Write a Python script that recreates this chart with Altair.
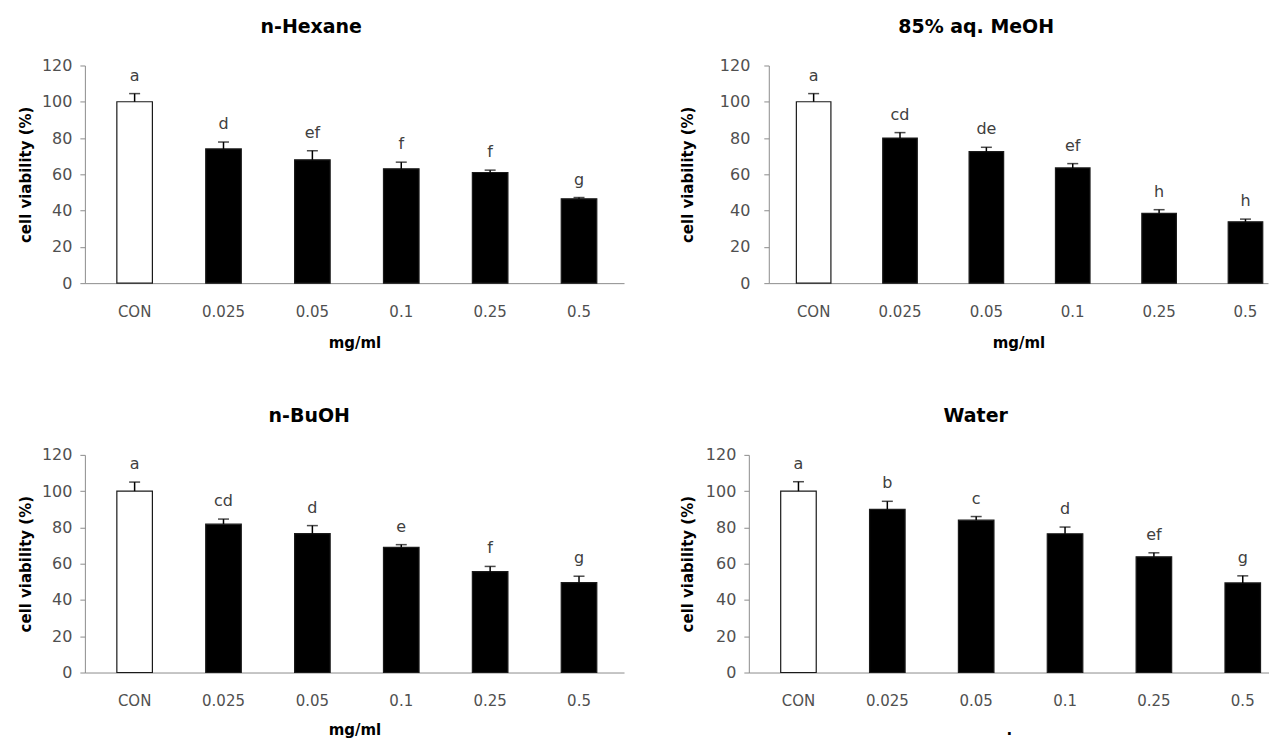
import altair as alt
import pandas as pd

doses = ["CON", "0.025", "0.05", "0.1", "0.25", "0.5"]

hexane_vals = [100, 74, 68, 63, 61, 46.5]
hexane_err = [4.5, 3.8, 5.0, 3.7, 1.3, 0.7]
hexane_letters = ["a", "d", "ef", "f", "f", "g"]

meoh_vals = [100, 80, 72.5, 63.5, 38.5, 33.8]
meoh_err = [4.5, 3.0, 2.4, 2.4, 2.0, 1.5]
meoh_letters = ["a", "cd", "de", "ef", "h", "h"]

buoh_vals = [100, 81.8, 76.6, 69, 55.6, 49.6]
buoh_err = [5.0, 2.8, 4.4, 1.5, 2.9, 3.5]
buoh_letters = ["a", "cd", "d", "e", "f", "g"]

water_vals = [100, 90, 84, 76.5, 63.8, 49.4]
water_err = [5.2, 4.4, 2.0, 3.7, 2.2, 3.9]
water_letters = ["a", "b", "c", "d", "ef", "g"]

y_ticks = [0, 20, 40, 60, 80, 100, 120]

FONT = "DejaVu Sans"
YTITLE = "cell viability (%)"


def panel(title, vals, errs, letters, xtitle, width, po, align, label_pad, title_pad,
          x_title_pad, title_dx):
    df = pd.DataFrame({"dose": doses, "value": vals, "err": errs, "letter": letters})
    base = alt.Chart(df).encode(
        x=alt.X(
            "dose:N",
            sort=doses,
            scale=alt.Scale(paddingInner=0.6, paddingOuter=po, align=align),
            axis=alt.Axis(
                labelAngle=0,
                ticks=False,
                labelPadding=21,
                titlePadding=x_title_pad,
                domainColor="#8c8c8c",
                labelColor="#505050",
                labelFontSize=15,
                labelFont=FONT,
                titleFontSize=15,
                titleFont=FONT,
                titleFontWeight="bold",
                titleColor="#000000",
            ),
            title=xtitle,
        )
    )
    yscale = alt.Scale(domain=[0, 120], nice=False)
    yax = alt.Axis(
        values=y_ticks,
        tickCount=7,
        grid=False,
        labelOverlap=False,
        domainColor="#8c8c8c",
        tickColor="#8c8c8c",
        tickSize=5,
        labelPadding=label_pad,
        titlePadding=title_pad,
        labelColor="#505050",
        labelFontSize=16,
        labelFont=FONT,
        titleFontSize=15,
        titleFont=FONT,
        titleFontWeight="bold",
        titleColor="#000000",
    )
    bars = base.mark_bar(stroke="#1a1a1a", strokeWidth=1.2).encode(
        y=alt.Y("value:Q", scale=yscale, axis=yax, title=YTITLE),
        fill=alt.condition("datum.dose == 'CON'", alt.value("#ffffff"), alt.value("#000000")),
    )
    rule = base.mark_rule(color="#000000", strokeWidth=1.5).encode(
        y=alt.Y("value:Q", scale=yscale, axis=yax, title=YTITLE), y2=alt.Y2("top:Q")
    )
    cap = base.mark_tick(orient="horizontal", size=11, thickness=1.5, color="#000000").encode(
        y=alt.Y("top:Q", scale=yscale, axis=yax, title=YTITLE)
    )
    text = base.mark_text(dy=-18, fontSize=16, font=FONT, color="#404040", baseline="middle").encode(
        y=alt.Y("top:Q", scale=yscale, axis=yax, title=YTITLE), text="letter:N"
    )
    return (
        alt.layer(bars, rule, cap, text)
        .transform_calculate(top="datum.value + datum.err")
        .properties(
            width=width,
            height=218,
            title=alt.TitleParams(title, fontSize=19, font=FONT, fontWeight="bold",
                                  color="#000000", anchor="middle", frame="bounds",
                                  dx=title_dx, offset=21),
        )
    )


p1 = panel("n-Hexane", hexane_vals, hexane_err, hexane_letters, "mg/ml", 540, 0.333, 0.54, 8, 8, 16, -10)
p2 = panel("85% aq. MeOH", meoh_vals, meoh_err, meoh_letters, "mg/ml", 500, 0.19, 0.84, 14, 24, 16, 2)
p3 = panel("n-BuOH", buoh_vals, buoh_err, buoh_letters, "mg/ml", 540, 0.333, 0.54, 8, 8, 14, -12)
p4 = panel("Water", water_vals, water_err, water_letters, ".", 521, 0.227, 0.79, 8, 10, 14, 1)

row1 = alt.hconcat(p1, p2, spacing=56)
row2 = alt.hconcat(p3, p4, spacing=56)

chart = (
    alt.vconcat(row1, row2, spacing=57)
    .properties(padding={"left": 10, "top": 9, "right": 0, "bottom": 0})
    .configure_view(stroke=None)
)

chart.save("out.html", embed_options={"renderer": "svg", "actions": False})
